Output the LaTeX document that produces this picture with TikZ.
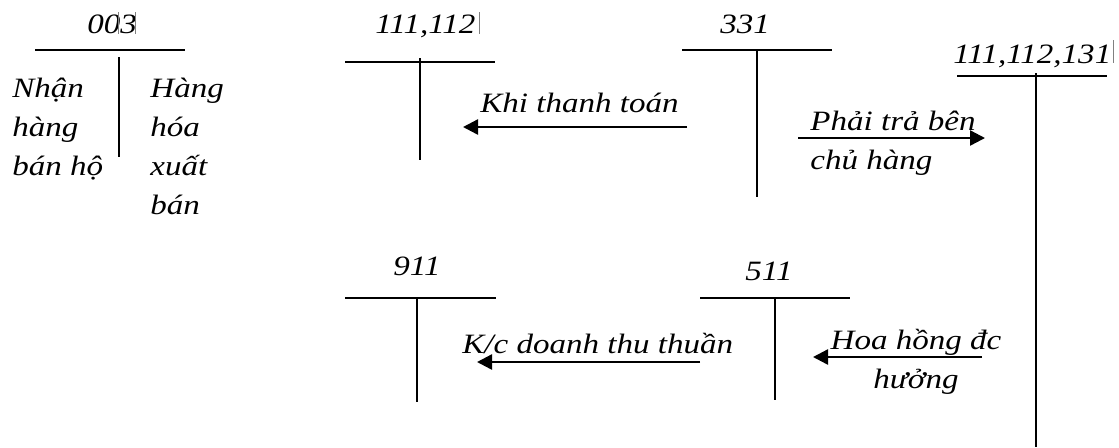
\documentclass[tikz,border=0pt]{standalone}
\usepackage{fontspec}
\setmainfont{Liberation Serif}[FakeStretch=1.18]
\usetikzlibrary{positioning,arrows.meta}

\tikzset{
  tline/.style={line width=1pt},
  txt/.style={inner sep=0pt, anchor=base west, font=\fontsize{14}{19.5}\selectfont\itshape},
  flow/.style={line width=1.2pt, -{Triangle[length=7.5pt,width=7.5pt]}},
  caret/.style={line width=0.4pt, gray}
}

\begin{document}
\begin{tikzpicture}[x=0.5pt, y=-0.5pt]
  \useasboundingbox (0,0) rectangle (1119,447);

  % Account 003 with its two sides (multi-line nodes sit on their last line)
  \node[txt] (a003) at (87,33) {003};
  \draw[caret] (118,12) -- (118,34);
  \draw[caret] (135,12) -- (135,34);
  \draw[tline] (35,50) -- (185,50);
  \draw[tline] (119,57) -- (119,157);
  \node[txt, align=left] (dr003) at (12,175) {Nhận\\hàng\\bán hộ};
  \node[txt, align=left] (cr003) at (150,214) {Hàng\\hóa\\xuất\\bán};

  % Account 111,112
  \node[txt] (a111) at (375,33) {111,112};
  \draw[caret] (479,12) -- (479,34);
  \draw[tline] (345,62) -- (495,62);
  \draw[tline] (420,58) -- (420,160);

  % Account 331
  \node[txt] (a331) at (720,33) {331};
  \draw[tline] (682,50) -- (832,50);
  \draw[tline] (757,50) -- (757,197);

  % Account 111,112,131
  \node[txt] (a131) at (953,63) {111,112,131};
  \draw[caret] (1113,40) -- (1113,63);
  \draw[tline] (957,76) -- (1107,76);
  \draw[tline] (1036,73) -- (1036,447);

  % Account 911
  \node[txt] (a911) at (393,275) {911};
  \draw[tline] (345,298) -- (496,298);
  \draw[tline] (417,298) -- (417,402);

  % Account 511
  \node[txt] (a511) at (745,280) {511};
  \draw[tline] (700,298) -- (850,298);
  \draw[tline] (775,298) -- (775,400);

  % Flows between the accounts
  \coordinate (pay0) at (687,127);
  \coordinate (pay1) at (463,127);
  \node[txt] (lpay) at (480,112) {Khi thanh toán};
  \draw[flow] (pay0) -- (pay1);

  \coordinate (own0) at (798,138);
  \coordinate (own1) at (985,138);
  \node[txt, align=left] (lown) at (810,169) {Phải trả bên\\chủ hàng};
  \draw[flow] (own0) -- (own1);

  \coordinate (rev0) at (700,362);
  \coordinate (rev1) at (477,362);
  \node[txt] (lrev) at (462,353) {K/c doanh thu thuần};
  \draw[flow] (rev0) -- (rev1);

  \coordinate (com0) at (982,357);
  \coordinate (com1) at (813,357);
  \node[txt, align=center, anchor=base] (lcom) at (916,388) {Hoa hồng đc\\hưởng};
  \draw[flow] (com0) -- (com1);
\end{tikzpicture}
\end{document}
